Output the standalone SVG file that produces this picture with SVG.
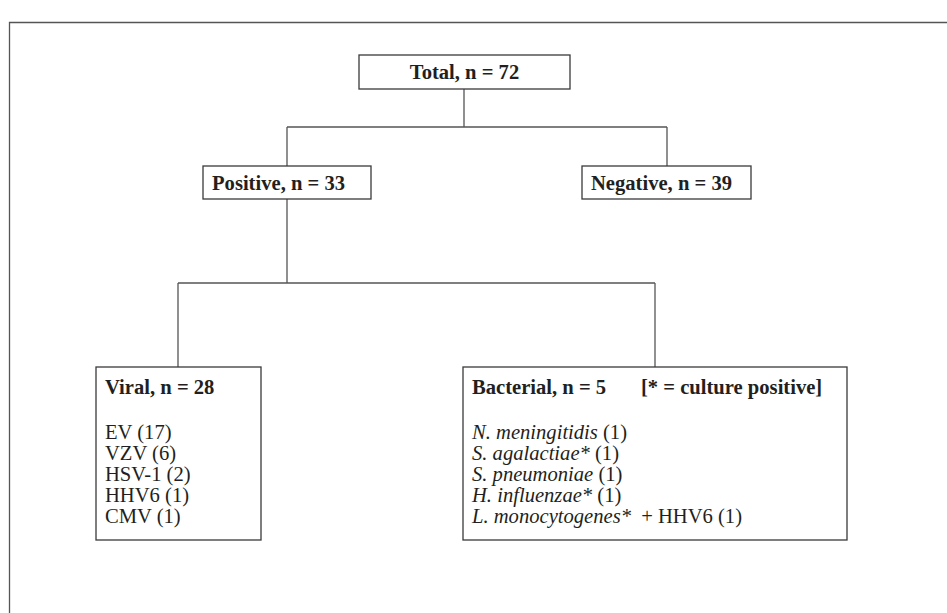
<svg xmlns="http://www.w3.org/2000/svg" width="947" height="613" viewBox="0 0 947 613">
<style>
.box{fill:#fff;stroke:#3a3a3a;stroke-width:1.3}
.ln{fill:none;stroke:#555;stroke-width:1.3}
.t{font-family:"Liberation Serif","Times New Roman",serif;font-size:20.6px;fill:#231f20}
.b{font-weight:bold}
.i{font-style:italic}
</style>
<rect x="0" y="0" width="947" height="613" fill="#fff"/>
<path class="ln" d="M9.5 640 V22.5 H960"/>
<g id="connectors">
<path class="ln" d="M464 89 V127 M287 127 H667 M287 127 V166 M667 127 V166"/>
<path class="ln" d="M287 199 V283 M178 283 H655 M178 283 V367"/>
<path class="ln" d="M655 283 V367"/>
</g>
<g id="total">
<rect class="box" x="359" y="55" width="211" height="34"/>
<text class="t b" x="464.5" y="79" text-anchor="middle">Total, n = 72</text>
</g>
<g id="positive">
<rect class="box" x="203" y="166" width="168" height="33"/>
<text class="t b" x="212" y="189.5">Positive, n = 33</text>
</g>
<g id="negative">
<rect class="box" x="582" y="166" width="169" height="33"/>
<text class="t b" x="591" y="189.5">Negative, n = 39</text>
</g>
<g id="viral">
<rect class="box" x="96" y="367" width="165" height="173"/>
<text class="t b" x="105" y="394">Viral, n = 28</text>
<text class="t" x="105" y="439">EV (17)</text>
<text class="t" x="105" y="460">VZV (6)</text>
<text class="t" x="105" y="481">HSV-1 (2)</text>
<text class="t" x="105" y="502">HHV6 (1)</text>
<text class="t" x="105" y="523">CMV (1)</text>
</g>
<g id="bacterial">
<rect class="box" x="463" y="367" width="384" height="173"/>
<text class="t b" x="472" y="394">Bacterial, n = 5</text>
<text class="t b" x="641" y="394">[* = culture positive]</text>
<text class="t" x="472" y="439"><tspan class="i">N. meningitidis</tspan> (1)</text>
<text class="t" x="472" y="460"><tspan class="i">S. agalactiae*</tspan> (1)</text>
<text class="t" x="472" y="481"><tspan class="i">S. pneumoniae</tspan> (1)</text>
<text class="t" x="472" y="502"><tspan class="i">H. influenzae*</tspan> (1)</text>
<text class="t" x="472" y="523"><tspan class="i">L. monocytogenes*</tspan><tspan dx="5"> + HHV6 (1)</tspan></text>
</g>
</svg>
